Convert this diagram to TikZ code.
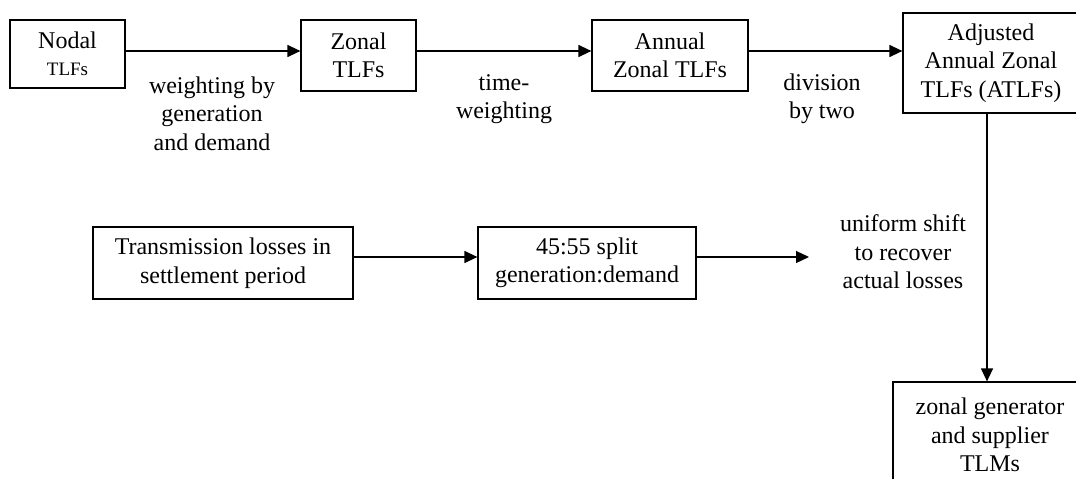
\documentclass[tikz,border=0pt]{standalone}
\usepackage{fontspec}
\setmainfont{Liberation Serif}
\usetikzlibrary{arrows.meta}
\begin{document}
\begin{tikzpicture}[x=1pt,y=-1pt,
  every node/.style={font=\fontsize{24}{28.5}\selectfont, inner sep=0pt, align=center},
  box/.style={draw, line width=1.2pt, rectangle},
  arr/.style={line width=1.2pt, -{Triangle[length=13pt,width=12pt]}},
  lbl/.style={}]
  \useasboundingbox (0,0) rectangle (1076,479);
  \clip (0,0) rectangle (1076,479);

  % top row: loss factor stages
  \node[box, minimum width=115pt, minimum height=68pt] (nodal) at (67.5,54)
    {Nodal\\[-2pt]{\fontsize{19}{22}\selectfont TLFs}};
  \node[box, minimum width=115pt, minimum height=71pt] (zonal) at (358.5,55.5)
    {Zonal\\TLFs};
  \node[box, minimum width=156pt, minimum height=71pt] (annual) at (670,55.5)
    {Annual\\Zonal TLFs};
  \node[box, minimum width=176pt, minimum height=100pt] (atlf) at (991,63)
    {Adjusted\\Annual Zonal\\TLFs (ATLFs)};

  % middle row: losses
  \node[box, minimum width=260pt, minimum height=72pt] (trans) at (223,263)
    {Transmission losses in\\settlement period};
  \node[box, minimum width=218pt, minimum height=72pt] (split) at (587,263)
    {45:55 split\\generation:demand};

  % result
  \node[box, minimum width=194pt, minimum height=106pt] (tlm) at (990,435)
    {zonal generator\\and supplier\\TLMs};

  % step labels
  \node[lbl] (l1) at (212,113.5) {weighting by\\generation\\and demand};
  \node[lbl] (l2) at (504,99) {time-\\weighting};
  \node[lbl] (l3) at (822,99) {division\\by two};
  \node[lbl] (l4) at (903,252) {uniform shift\\to recover\\actual losses};

  % connectors
  \coordinate (ty) at (0,51);
  \coordinate (my) at (0,257);
  \coordinate (vx) at (987,0);
  \coordinate (shiftend) at (809,257);
  \draw[arr] (nodal.east |- ty) -- (zonal.west |- ty);
  \draw[arr] (zonal.east |- ty) -- (annual.west |- ty);
  \draw[arr] (annual.east |- ty) -- (atlf.west |- ty);
  \draw[arr] (trans.east |- my) -- (split.west |- my);
  \draw[arr] (split.east |- my) -- (shiftend);
  \draw[arr] (atlf.south -| vx) -- (tlm.north -| vx);
\end{tikzpicture}
\end{document}
